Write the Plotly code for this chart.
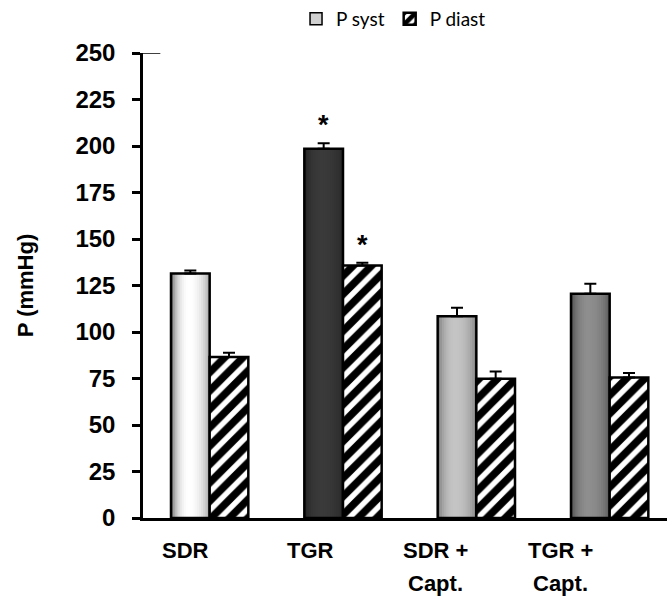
import math
import plotly.graph_objects as go

# Blood pressure by group (mmHg), mean and SEM
groups = ["SDR", "TGR", "SDR +<br>Capt.", "TGR +<br>Capt."]
p_syst = [131.5, 198.5, 108.5, 120.5]
p_syst_err = [1.6, 3.0, 4.6, 5.4]
p_diast = [86.5, 135.8, 74.8, 75.5]
p_diast_err = [2.4, 1.4, 4.0, 2.4]
signif_syst = ["", "*", "", ""]
signif_diast = ["", "*", "", ""]

xs = list(range(len(groups)))
W = 0.29  # bar width in category units

# cylinder-style shading for systolic bars: (left edge, centre, right edge)
shade = [
    ((0x3c, 0x3c, 0x3c), (0xff, 0xff, 0xff), (0x8a, 0x8a, 0x8a)),
    ((0x1c, 0x1c, 0x1c), (0x3a, 0x3a, 0x3a), (0x22, 0x22, 0x22)),
    ((0x60, 0x60, 0x60), (0xc4, 0xc4, 0xc4), (0x70, 0x70, 0x70)),
    ((0x38, 0x38, 0x38), (0x8e, 0x8e, 0x8e), (0x48, 0x48, 0x48)),
]


def shade_color(spec, t, peak=0.45):
    left, mid, right = spec
    if t <= peak:
        s = math.sin(math.pi / 2 * t / peak) ** 0.5
        edge = left
    else:
        s = math.sin(math.pi / 2 * (1 - t) / (1 - peak)) ** 0.5
        edge = right
    c = [round(e + (m - e) * s) for e, m in zip(edge, mid)]
    return "rgb({},{},{})".format(*c)


fig = go.Figure()

# legend entry for systolic series
fig.add_trace(go.Bar(
    x=[None], y=[None], name="P syst",
    marker=dict(color="#d0d0d0", line=dict(color="black", width=1.5)),
))

# systolic bars: nested strips, each one overlaying the previous
N = 18
dw = W / N
for k in range(N):
    t = (k + 0.5) / N
    fig.add_trace(go.Bar(
        x=xs, y=p_syst, offset=-W + k * dw, width=W - k * dw,
        marker=dict(color=[shade_color(s, t) for s in shade], line=dict(width=0)),
        showlegend=False, hoverinfo="skip",
    ))

# systolic outline and error bars
fig.add_trace(go.Bar(
    x=xs, y=p_syst, offset=-W, width=W,
    marker=dict(color="rgba(0,0,0,0)", line=dict(color="black", width=2.5)),
    error_y=dict(type="data", array=p_syst_err, arrayminus=[0] * 4,
                 symmetric=False, color="black", thickness=2, width=6),
    showlegend=False, name="P syst",
))

# diastolic bars, hatched
fig.add_trace(go.Bar(
    x=xs, y=p_diast, offset=0, width=W, name="P diast",
    marker=dict(color="white", line=dict(color="black", width=2.5),
                pattern=dict(shape="/", fgcolor="black", bgcolor="white",
                             fgopacity=1, size=13, solidity=0.58)),
    error_y=dict(type="data", array=p_diast_err, arrayminus=[0] * 4,
                 symmetric=False, color="black", thickness=2, width=6),
))

annotations = []
star_font = dict(family="Liberation Sans", size=27, color="black", weight="bold")
# significance marks
for i in xs:
    if signif_syst[i]:
        annotations.append(dict(x=i - W / 2, y=p_syst[i] + p_syst_err[i], xref="x", yref="y",
                                text=signif_syst[i], showarrow=False, yanchor="bottom", yshift=1,
                                font=star_font))
    if signif_diast[i]:
        annotations.append(dict(x=i + W / 2, y=p_diast[i] + p_diast_err[i], xref="x", yref="y",
                                text=signif_diast[i], showarrow=False, yanchor="bottom", yshift=1,
                                font=star_font))

# category labels, one annotation per line
for i, g in enumerate(groups):
    lx = -0.18 + 0.9375 * i
    for j, line in enumerate(g.split("<br>")):
        annotations.append(dict(x=lx, y=-0.069 - 0.071 * j, xref="x", yref="paper",
                                text="<b>" + line + "</b>", showarrow=False, yanchor="middle",
                                font=dict(family="Liberation Sans", size=22, color="black")))

fig.update_layout(
    width=667, height=600,
    margin=dict(l=143, r=0, t=53, b=82),
    paper_bgcolor="white", plot_bgcolor="white",
    barmode="overlay",
    showlegend=True,
    legend=dict(orientation="h", xref="container", yref="container",
                x=0.59, xanchor="center", y=1.0, yanchor="top",
                font=dict(family="Lato", size=19, color="black"),
                itemwidth=30, tracegroupgap=0, bgcolor="rgba(0,0,0,0)"),
    annotations=annotations,
    # short cap stroke at the top of the value axis
    shapes=[dict(type="line", xref="x", yref="y", x0=-0.5, x1=-0.37, y0=250, y1=250,
                 line=dict(color="black", width=1.5))],
    font=dict(family="Liberation Sans", color="black"),
)

fig.update_xaxes(range=[-0.5, 3.43], showline=True, linecolor="black", linewidth=2.5,
                 showticklabels=False, ticks="", showgrid=False, zeroline=False)
fig.update_yaxes(range=[0, 250], dtick=25, tick0=0, showline=True, linecolor="black",
                 linewidth=2.5, ticks="outside", ticklen=8, tickwidth=2.5, tickcolor="black",
                 showgrid=False, zeroline=False, ticklabelstandoff=12,
                 tickfont=dict(family="Liberation Sans", size=24, color="black", weight="bold"),
                 title=dict(text="<b>P (mmHg)</b>", standoff=36,
                            font=dict(family="Liberation Sans", size=22, color="black")))

fig.write_html("out.html")
